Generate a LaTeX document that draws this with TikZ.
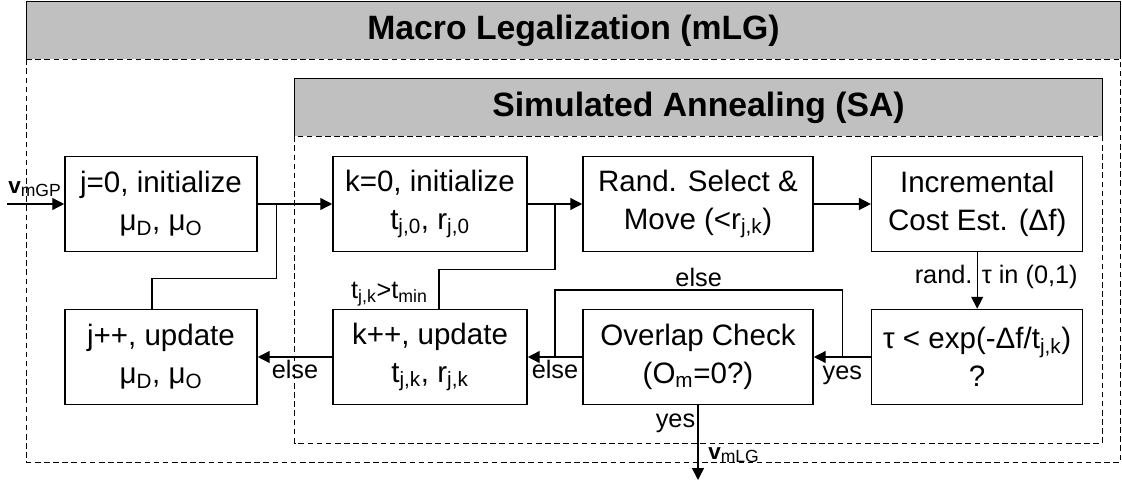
\documentclass[tikz,border=0pt]{standalone}
\usepackage{fontspec}
\setmainfont{Liberation Sans}
\usetikzlibrary{arrows.meta,positioning,calc}
\definecolor{bannergray}{RGB}{192,192,192}
\newcommand{\vlab}[1]{{\fontsize{16}{19}\selectfont\textbf{v}}\raisebox{-0.15em}{\fontsize{12.5}{15}\selectfont #1}}

\begin{document}
\begin{tikzpicture}[
 box/.style={rectangle, draw, line width=1.1pt, minimum height=2.375cm, font=\fontsize{21}{27}\selectfont, align=center, inner sep=2pt},
 banner/.style={rectangle, fill=bannergray, font=\fontsize{24}{29}\selectfont\bfseries, inner sep=0pt, minimum height=1.425cm},
 frame/.style={line width=0.8pt, dash pattern=on 4pt off 2.5pt},
 lbl/.style={font=\fontsize{18}{22}\selectfont, inner sep=1.5pt},
 arr/.style={-{Triangle[length=8.5pt,width=8.5pt]}, line width=1pt},
 line/.style={line width=1pt},
]
\useasboundingbox (0,0) rectangle (28.05,-12.075);
\node[banner, minimum width=27.325cm] (mlg) at (14.3375,-0.7625) {Macro Legalization (mLG)};
\draw[line width=1.1pt] (mlg.south west) |- (mlg.north east) -- (mlg.south east);
\draw[frame] (mlg.south west) rectangle ([yshift=-10.075cm]mlg.south east);
\node[banner, minimum width=20.175cm] (sa) at (17.4625,-2.6875) {Simulated Annealing (SA)};
\draw[line width=1.1pt] (sa.south west) |- (sa.north east) -- (sa.south east);
\draw[frame] (sa.south west) rectangle ([yshift=-7.675cm]sa.south east);

\node[box, minimum width=4.8cm] (init) at (4.025,-5.1) {j=0, initialize\\μ\textsubscript{D}, μ\textsubscript{O}};
\node[box, minimum width=4.85cm] (kinit) at (10.75,-5.1) {k=0, initialize\\t\textsubscript{j,0}, r\textsubscript{j,0}};
\node[box, minimum width=5.75cm] (move) at (17.45,-5.1) {Rand. Select \&\\Move (<r\textsubscript{j,k})};
\node[box, minimum width=5.275cm] (cost) at (24.43,-5.1) {Incremental\\Cost Est. (Δf)};
\node[box, minimum width=4.8cm] (jupd) at (4.025,-8.925) {j++, update\\μ\textsubscript{D}, μ\textsubscript{O}};
\node[box, minimum width=4.85cm] (kupd) at (10.75,-8.925) {k++, update\\t\textsubscript{j,k}, r\textsubscript{j,k}};
\node[box, minimum width=5.75cm] (overlap) at (17.45,-8.925) {Overlap Check\\(O\textsubscript{m}=0?)};
\node[box, minimum width=5.275cm] (accept) at (24.43,-8.925) {τ < exp(-Δf/t\textsubscript{j,k})\\?};

\coordinate (vin) at (0.175,-5.1);
\coordinate (vout) at (17.45,-12.0);
\coordinate (jjoin) at ($(init.east)!0.25!(kinit.west)$);
\coordinate (kjoin) at ($(kinit.east)!0.5!(move.west)$);
\coordinate (ojoin) at ($(kupd.east)!0.5!(overlap.west)$);
\coordinate (ajoin) at ($(overlap.east)!0.5!(accept.west)$);

\draw[arr] (vin) -- (init);
\node[anchor=base west, inner sep=0pt] (vmgp) at ([xshift=0.025cm,yshift=0.25cm]vin) {\vlab{mGP}};
\draw[arr] (init) -- (kinit);
\draw[line] ([xshift=-0.225cm]jupd.north) -- ++(0,0.75) -| (jjoin);
\draw[arr] (kinit) -- (move);
\draw[line] ([xshift=0.225cm]kupd.north) -- ++(0,0.975) -| (kjoin);
\node[lbl, anchor=south east] (tcond) at (kupd.north) {t\textsubscript{j,k}>t\textsubscript{min}};
\draw[arr] (move) -- (cost);
\draw[arr] (cost) -- (accept) node[midway, lbl, xshift=0.475cm, yshift=0.1cm] {rand. τ in (0,1)};
\draw[arr] (accept) -- (overlap) node[midway, below, lbl, yshift=-0.15cm] {yes};
\draw[line] (ajoin) -- ++(0,1.675) -| node[pos=0.25, above, lbl] {else} (ojoin);
\draw[arr] (overlap) -- (kupd) node[midway, below, lbl] {else};
\draw[arr] (kupd) -- (jupd) node[midway, below, lbl] {else};
\draw[arr] (overlap) -- (vout) node[pos=0.24, left, lbl] {yes};
\node[anchor=base west, inner sep=0pt] (vmlg) at ([xshift=0.25cm,yshift=0.5cm]vout) {\vlab{mLG}};
\end{tikzpicture}
\end{document}
